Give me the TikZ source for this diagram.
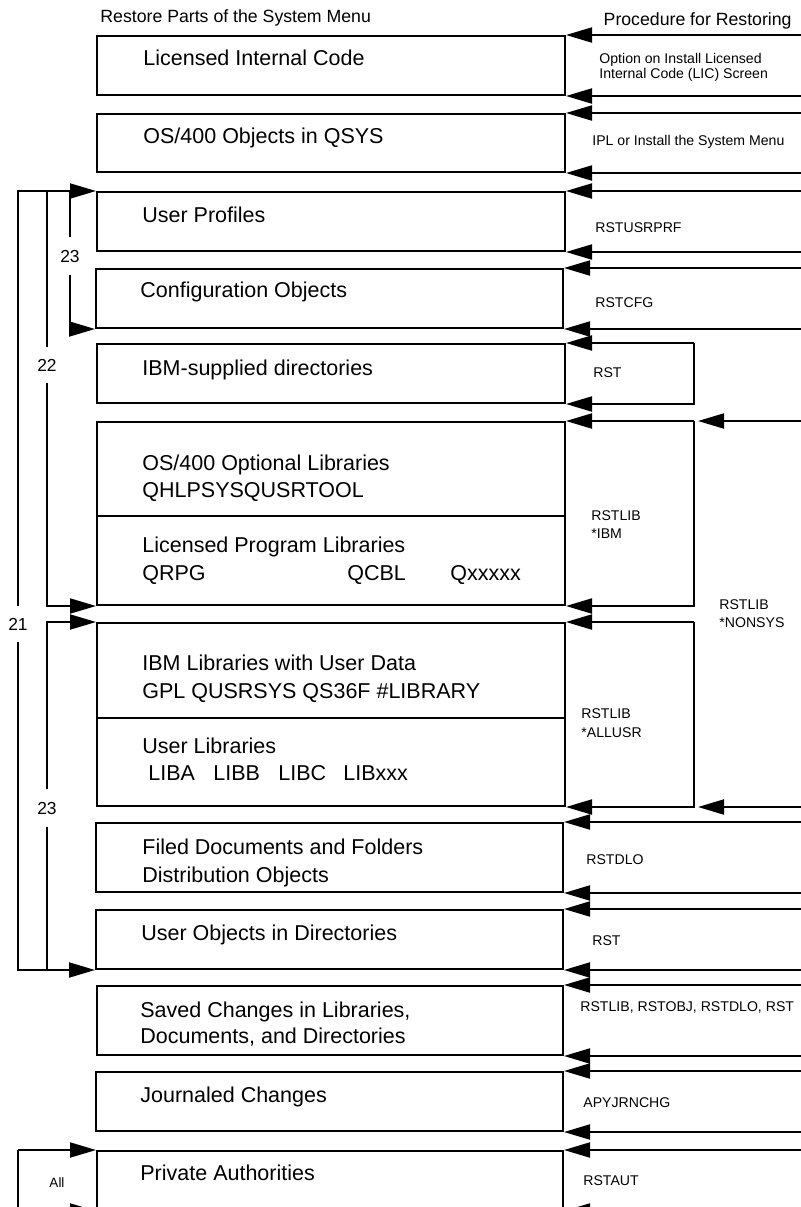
\documentclass[tikz,border=0pt]{standalone}
\usepackage{fontspec}
\setmainfont{Liberation Sans}
\usetikzlibrary{arrows.meta,fit}

\tikzset{
  part/.style={draw, line width=1pt, inner sep=0pt, fit={#1}},
  feed/.style={line width=1pt, -{Triangle[length=13pt,width=7.5pt]}},
  wire/.style={line width=1pt},
  ptxt/.style={anchor=base west, inner sep=0pt, font=\fontsize{10.75}{13}\selectfont},
  ctxt/.style={anchor=base west, inner sep=0pt, font=\fontsize{7.05}{9}\selectfont},
  htxt/.style={anchor=base west, inner sep=0pt, font=\fontsize{8.85}{11}\selectfont},
  ntxt/.style={inner xsep=0pt, inner ysep=6pt, font=\fontsize{8.7}{10}\selectfont},
}

\begin{document}
\begin{tikzpicture}[x=0.5pt, y=-0.5pt]
\useasboundingbox (0,0) rectangle (801,1207);
\clip (0,0) rectangle (801,1207);
% columns: right page edge, command bracket, "All" loop
\coordinate (edge) at (801,0);
\coordinate (br) at (694,0);
\coordinate (allc) at (18,0);

% headings
\node[htxt] (hl) at (100,22) {Restore Parts of the System Menu};
\node[htxt, anchor=base east] (hr) at (792,25) {Procedure for Restoring};

% parts of the system (pixel coordinates, y down)
\node[part={(97,36) (565,95)}] (lic) {};
\node[part={(97,114) (565,172)}] (qsys) {};
\node[part={(97,192) (565,251)}] (prof) {};
\node[part={(96,269) (563,328)}] (conf) {};
\node[part={(97,344) (565,403)}] (ibmdir) {};
\node[part={(97,422) (565,516)}] (optA) {};
\node[part={(97,516) (565,605)}] (optB) {};
\node[part={(97,623) (565,718)}] (ulibA) {};
\node[part={(97,718) (565,806)}] (ulibB) {};
\node[part={(96,823) (563,892)}] (dlo) {};
\node[part={(96,910) (563,969)}] (uobj) {};
\node[part={(97,986) (563,1055)}] (saved) {};
\node[part={(96,1072) (563,1131)}] (jrn) {};
\node[part={(97,1151) (563,1210)}] (aut) {};

% box texts
\node[ptxt] (licT) at (143,65) {Licensed Internal Code};
\node[ptxt] (qsysT) at (143,143) {OS/400 Objects in QSYS};
\node[ptxt] (profT) at (142,222) {User Profiles};
\node[ptxt] (confT) at (140,297) {Configuration Objects};
\node[ptxt] (ibmdirT) at (142,375) {IBM-supplied directories};
\node[ptxt] (optT) at (142,470) {OS/400 Optional Libraries};
\node[ptxt] (optL) at (142,497) {QHLPSYSQUSRTOOL};
\node[ptxt] (lppT) at (142,552) {Licensed Program Libraries};
\node[ptxt] (lppA) at (142,580) {QRPG};
\node[ptxt] (lppB) at (347,580) {QCBL};
\node[ptxt] (lppC) at (450,580) {Qxxxxx};
\node[ptxt] (ibmlibT) at (142,670) {IBM Libraries with User Data};
\node[ptxt] (ibmlibL) at (142,698) {GPL QUSRSYS QS36F \#LIBRARY};
\node[ptxt] (ulibT) at (142,753) {User Libraries};
\node[ptxt] (ulibA1) at (148,780) {LIBA};
\node[ptxt] (ulibA2) at (213,780) {LIBB};
\node[ptxt] (ulibA3) at (278,780) {LIBC};
\node[ptxt] (ulibA4) at (343,780) {LIBxxx};
\node[ptxt] (dloT) at (142,854) {Filed Documents and Folders};
\node[ptxt] (dloL) at (142,882) {Distribution Objects};
\node[ptxt] (uobjT) at (141,940) {User Objects in Directories};
\node[ptxt] (savedT) at (140,1017) {Saved Changes in Libraries,};
\node[ptxt] (savedL) at (140,1043) {Documents, and Directories};
\node[ptxt] (jrnT) at (140,1102) {Journaled Changes};
\node[ptxt] (autT) at (140,1180) {Private Authorities};

% procedures
\node[ctxt] (licC) at (599,63) {Option on Install Licensed};
\node[ctxt] (licD) at (599,78) {Internal Code (LIC) Screen};
\node[ctxt] (qsysC) at (592,145) {IPL or Install the System Menu};
\node[ctxt] (profC) at (595,232) {RSTUSRPRF};
\node[ctxt] (confC) at (595,307) {RSTCFG};
\node[ctxt] (ibmdirC) at (593,377) {RST};
\node[ctxt] (optC) at (591,520) {RSTLIB};
\node[ctxt] (optD) at (591,538) {*IBM};
\node[ctxt] (nonC) at (719,609) {RSTLIB};
\node[ctxt] (nonD) at (719,627) {*NONSYS};
\node[ctxt] (ulibC) at (581,718) {RSTLIB};
\node[ctxt] (ulibD) at (581,737) {*ALLUSR};
\node[ctxt] (dloC) at (586,864) {RSTDLO};
\node[ctxt] (uobjC) at (592,945) {RST};
\node[ctxt] (savedC) at (580,1011) {RSTLIB, RSTOBJ, RSTDLO, RST};
\node[ctxt] (jrnC) at (583,1107) {APYJRNCHG};
\node[ctxt] (autC) at (583,1185) {RSTAUT};

% arrows from the right edge
\foreach \b in {lic,qsys,prof,conf,dlo,uobj,saved,jrn,aut} {
  \draw[feed] (edge |- \b.north east) -- (\b.north east);
  \draw[feed] (edge |- \b.south east) -- (\b.south east);
}
% command brackets
\draw[feed] (br |- ibmdir.north east) -- (ibmdir.north east);
\draw[feed] (br |- ibmdir.north east) |- (ibmdir.south east);
\draw[feed] (br |- optA.north east) -- (optA.north east);
\draw[feed] (br |- optA.north east) |- (optB.south east);
\draw[feed] (br |- ulibA.north east) -- (ulibA.north east);
\draw[feed] (br |- ulibA.north east) |- (ulibB.south east);
\draw[feed, shorten >=2pt] (edge |- optA.north east) -- (br |- optA.north east);
\draw[feed, shorten >=2pt] (edge |- ulibB.south east) -- (br |- ulibB.south east);

% restore menu options on the left
\node[ntxt] (n21) at (18,624) {21};
\node[ntxt] (n22) at (47,365) {22};
\node[ntxt] (n23a) at (70,256) {23};
\node[ntxt] (n23b) at (47,808) {23};
\draw[feed] (n21) |- (prof.north west);
\draw[feed] (n21) |- (uobj.south west);
\draw[wire] (n22) -- (n22 |- prof.north west);
\draw[feed] (n22) |- (optB.south west);
\draw[wire] (n23a) -- (n23a |- prof.north west);
\draw[feed] (n23a) |- (conf.south west);
\draw[feed] (n23b) |- (ulibA.north west);
\draw[wire] (n23b) -- (n23b |- uobj.south west);

% option All
\node[ctxt, anchor=center, font=\fontsize{6.75}{8}\selectfont] (allT) at (57,1183) {All};
\draw[feed] (allc |- aut.north west) -- (aut.north west);
\draw[feed] (allc |- aut.north west) |- (aut.south west);
\end{tikzpicture}
\end{document}
